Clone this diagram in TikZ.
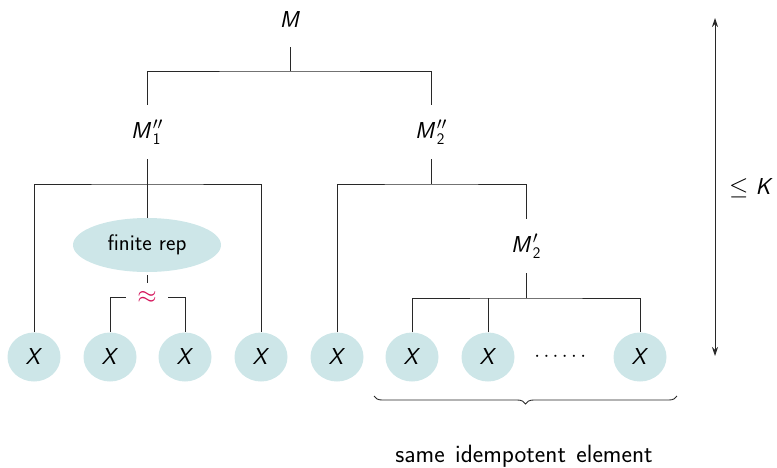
\documentclass[tikz,border=0pt]{standalone}
\usepackage{amsmath}
\usetikzlibrary{arrows.meta,decorations.pathreplacing,shapes.geometric}
\definecolor{leaf}{RGB}{205,230,232}
\definecolor{approxc}{RGB}{212,20,90}
\definecolor{linec}{RGB}{40,40,40}
\newcommand{\sv}[1]{\textit{#1}}
\newcommand{\mlab}[2]{$\mbox{\sv{M}\kern1.5pt}^{#1}_{\textsf{#2}}$}
\tikzset{
  lab/.style={inner sep=0pt, minimum height=54pt, minimum width=30pt, font=\fontsize{23}{27}\selectfont\sffamily},
  leafnode/.style={ellipse, fill=leaf, inner sep=0pt, minimum width=53pt, minimum height=49pt, font=\fontsize{23}{27}\selectfont\sffamily},
  conn/.style={draw=linec, line width=0.9pt},
}
\begin{document}
\begin{tikzpicture}[x=1pt,y=-1pt,font=\fontsize{21}{25}\selectfont\sffamily]
\useasboundingbox (0,0) rectangle (777,467);
\node[lab] (M) at (290,20) {\sv{M}};
\node[lab] (M1) at (147,132) {\mlab{\prime\prime}{1}};
\node[lab] (M2) at (431,132) {\mlab{\prime\prime}{2}};
\node[ellipse, fill=leaf, inner sep=0pt, minimum width=148pt, minimum height=54pt, font=\fontsize{22.5}{26}\selectfont\sffamily] (fr) at (147,245) {finite rep};
\node[inner sep=0pt, minimum width=42pt, minimum height=28pt, text=approxc, font=\fontsize{30}{32}\selectfont] (ap) at (147,297) {$\approx$};
\node[lab] (M2p) at (526,246) {\mlab{\prime}{2}};
\node[leafnode] (X1) at (34,357) {\sv{X}};
\node[leafnode] (X2) at (110,357) {\sv{X}};
\node[leafnode] (X3) at (185,357) {\sv{X}};
\node[leafnode] (X4) at (261,357) {\sv{X}};
\node[leafnode] (X5) at (337,357) {\sv{X}};
\node[leafnode] (X6) at (412,357) {\sv{X}};
\node[leafnode] (X7) at (488,357) {\sv{X}};
\node (dots) at (562,357) {$\cdots\cdots$};
\node[leafnode] (X8) at (640,357) {\sv{X}};
\coordinate (b1) at (290,71);
\coordinate (b2) at (147,184);
\coordinate (b3) at (431,184);
\coordinate (b4) at (526,298);
\draw[conn] (M.south) -- (b1);
\draw[conn] (M1.north) |- (b1) -| (M2.north);
\draw[conn] (M1.south) -- (fr.north);
\draw[conn] (X1.north) |- (b2) -| (X4.north);
\draw[conn, shorten <=3pt] (fr.south) -- (ap.north);
\draw[conn] (ap.west) -| (X2.north);
\draw[conn] (ap.east) -| (X3.north);
\draw[conn] (M2.south) -- (b3);
\draw[conn] (X5.north) |- (b3) -| (M2p.north);
\draw[conn] (M2p.south) -- (b4);
\draw[conn] (X6.north) |- (b4) -| (X8.north);
\draw[conn] (X7.north) -- (X7.north |- b4);
\coordinate (bl) at (374,396);
\coordinate (br) at (677,396);
\draw[conn, decorate, decoration={brace, mirror, amplitude=8pt}] (bl) -- (br);
\node[font=\fontsize{25}{29}\selectfont\sffamily] (same) at (524,456) {same\hspace{0.42em}idempotent\hspace{0.42em}element};
\coordinate (at) at (715,18);
\coordinate (ab) at (715,356);
\draw[conn, {Stealth[length=9pt,width=6pt]}-{Stealth[length=9pt,width=6pt]}] (at) -- (ab);
\node[font=\fontsize{23}{27}\selectfont\sffamily] (K) at (751,188) {$\leq$ \sv{K}};
\end{tikzpicture}
\end{document}
